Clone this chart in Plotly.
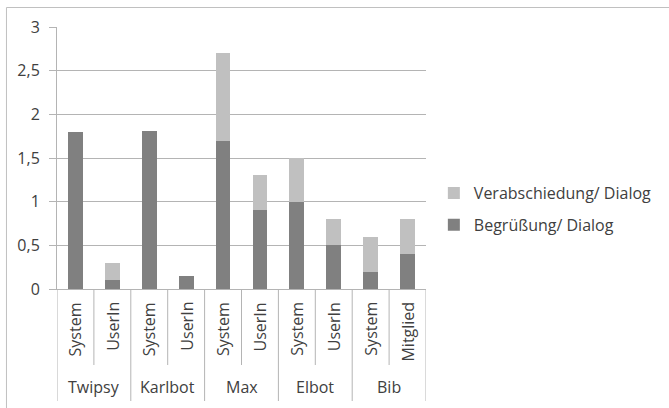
import plotly.graph_objects as go

groups = ["Twipsy", "Twipsy", "Karlbot", "Karlbot", "Max", "Max", "Elbot", "Elbot", "Bib", "Bib"]
roles = ["System", "UserIn", "System", "UserIn", "System", "UserIn", "System", "UserIn", "System", "Mitglied"]
begruessung = [1.8, 0.1, 1.81, 0.15, 1.7, 0.9, 1.0, 0.5, 0.2, 0.4]
verabschiedung = [0.0, 0.2, 0.0, 0.0, 1.0, 0.4, 0.5, 0.3, 0.4, 0.4]
y_ticks = [0, 0.5, 1, 1.5, 2, 2.5, 3]

cats = [f"{g} {r}" for g, r in zip(groups, roles)]

W, H = 669, 408
L, R, T, B = 57, 236, 27, 119
plot_h = H - T - B
plot_w = W - L - R

def py(pix):
    return (H - B - pix) / plot_h

def px(pix):
    return (pix - L) / plot_w

font_family = "'Open Sans', sans-serif"
txt_col = "#404040"
line_col = "#b4b4b4"
fs = 16

fig = go.Figure()
fig.add_trace(go.Bar(x=cats, y=begruessung, name="Begrüßung/ Dialog",
                     marker=dict(color="#808080", line=dict(width=0)),
                     width=0.4, legendgroup="a", legendrank=2))
fig.add_trace(go.Bar(x=cats, y=verabschiedung, name="Verabschiedung/ Dialog",
                     marker=dict(color="#c0c0c0", line=dict(width=0)),
                     width=0.4, legendgroup="b", legendrank=1))

annotations = []
shapes = []
for i, r in enumerate(roles):
    annotations.append(dict(x=i, y=py(300), xref="x", yref="paper", text=r,
                            textangle=-90, showarrow=False, xanchor="center",
                            yanchor="top", font=dict(size=fs, color=txt_col,
                                                     family=font_family)))
starts = [0]
for i in range(1, len(groups)):
    if groups[i] != groups[i - 1]:
        starts.append(i)
ends = starts[1:] + [len(groups)]
for s, e in zip(starts, ends):
    annotations.append(dict(x=(s + e - 1) / 2, y=py(387), xref="x", yref="paper",
                            text=groups[s], showarrow=False, xanchor="center",
                            yanchor="middle", font=dict(size=fs, color=txt_col,
                                                        family=font_family)))
for i in range(len(groups) + 1):
    xpos = i - 0.5
    outer = (i == 0) or (i == len(groups)) or (i in starts)
    bottom = 401 if outer else 365
    shapes.append(dict(type="line", xref="x", yref="paper", x0=xpos, x1=xpos,
                       y0=0, y1=py(bottom), line=dict(color=line_col, width=1)))
# chart border (left + top visible; right/bottom outside the picture)
shapes.append(dict(type="rect", xref="paper", yref="paper",
                   x0=px(5.5), x1=px(720), y0=py(7.5), y1=py(440),
                   line=dict(color="#c0c0c0", width=1), fillcolor="rgba(0,0,0,0)",
                   layer="below"))

fig.update_layout(
    width=W, height=H,
    margin=dict(l=L, r=R, t=T, b=B),
    barmode="stack",
    separators=", ",
    paper_bgcolor="white", plot_bgcolor="white",
    font=dict(family=font_family, size=fs, color=txt_col),
    showlegend=True,
    legend=dict(x=px(441), y=py(176), xanchor="left", yanchor="top",
                traceorder="grouped", tracegroupgap=8,
                font=dict(size=fs, color=txt_col, family=font_family),
                bgcolor="rgba(0,0,0,0)"),
    annotations=annotations,
    shapes=shapes,
)
fig.update_xaxes(type="category", showticklabels=False, showgrid=False,
                 showline=True, linecolor=line_col, linewidth=1, ticks="",
                 range=[-0.5, len(cats) - 0.5], zeroline=False)
fig.update_yaxes(range=[0, 3], tickvals=y_ticks, showgrid=True, gridcolor=line_col,
                 gridwidth=1, showline=True, linecolor=line_col, linewidth=1,
                 ticks="outside", ticklen=7, tickcolor=line_col, zeroline=False,
                 tickfont=dict(size=fs, color=txt_col, family=font_family),
                 ticklabelstandoff=6)

fig.write_html("out.html", config={"displayModeBar": False},
               post_script="document.body.style.margin='0px';")
